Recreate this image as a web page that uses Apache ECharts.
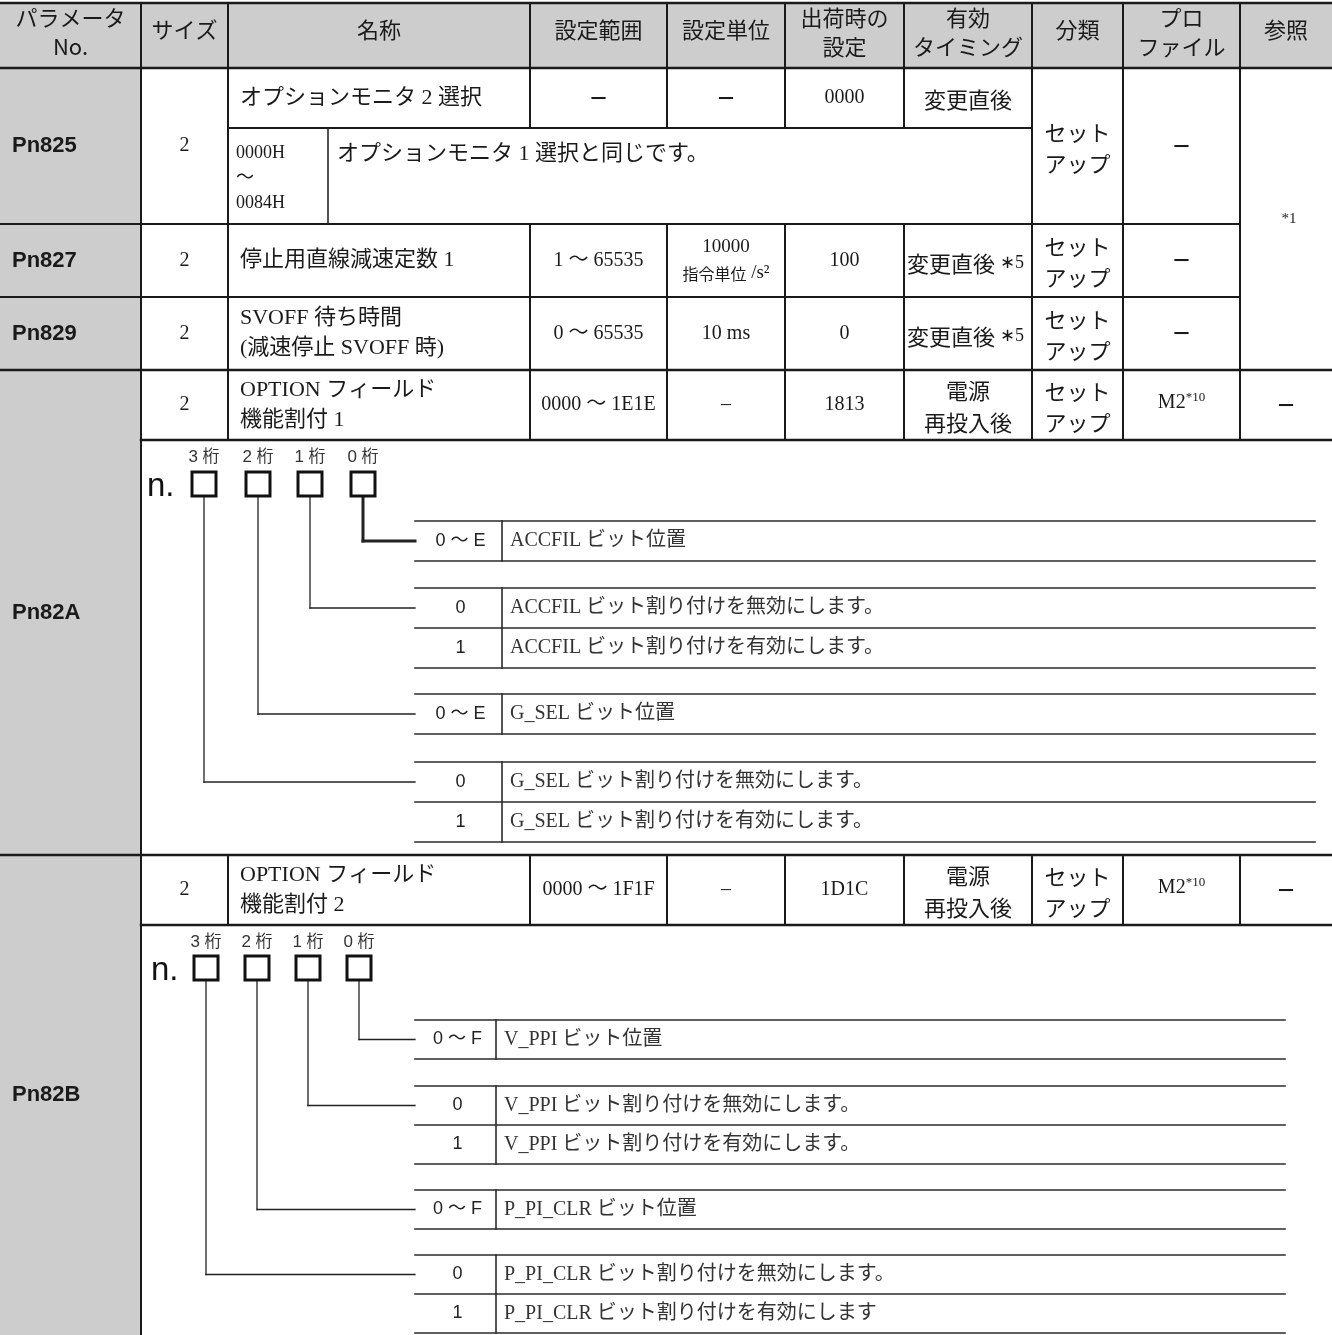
<!DOCTYPE html>
<html><head><meta charset="utf-8">
<script src="https://cdn.jsdelivr.net/npm/echarts@6/dist/echarts.min.js"></script>
<style>html,body{margin:0;padding:0;background:#fff}#c{width:1332px;height:1335px}</style>
</head><body><div id="c"></div>
<script>
// ---------------- content ----------------
const headers = ['パラメータ\nNo.', 'サイズ', '名称', '設定範囲', '設定単位', '出荷時の\n設定', '有効\nタイミング', '分類', 'プロ\nファイル', '参照'];
const paramNos = ['Pn825', 'Pn827', 'Pn829', 'Pn82A', 'Pn82B'];
const sizes = ['2', '2', '2', '2', '2'];
const names = ['オプションモニタ 2 選択', '停止用直線減速定数 1', 'SVOFF 待ち時間\n(減速停止 SVOFF 時)', 'OPTION フィールド\n機能割付 1', 'OPTION フィールド\n機能割付 2'];
const ranges = ['－', '1 ～ 65535', '0 ～ 65535', '0000 ～ 1E1E', '0000 ～ 1F1F'];
const units = ['－', '10000\n指令単位 /s²', '10 ms', '–', '–'];
const defaults = ['0000', '100', '0', '1813', '1D1C'];
const timings = ['変更直後', '変更直後|∗5', '変更直後|∗5', '電源\n再投入後', '電源\n再投入後'];
const classes = ['セット\nアップ', 'セット\nアップ', 'セット\nアップ', 'セット\nアップ', 'セット\nアップ'];
const profiles = ['－', '－', '－', 'M2|*10', 'M2|*10'];
const refs = ['*1', '－', '－'];
const pn825Range = '0000H\n～\n0084H';
const pn825Desc = 'オプションモニタ 1 選択と同じです。';
const digitLabels = ['3 桁', '2 桁', '1 桁', '0 桁'];
const digitPrefix = 'n.';
const pn82AEntries = [
  [['0 ～ E', 'ACCFIL ビット位置']],
  [['0', 'ACCFIL ビット割り付けを無効にします。'], ['1', 'ACCFIL ビット割り付けを有効にします。']],
  [['0 ～ E', 'G_SEL ビット位置']],
  [['0', 'G_SEL ビット割り付けを無効にします。'], ['1', 'G_SEL ビット割り付けを有効にします。']]
];
const pn82BEntries = [
  [['0 ～ F', 'V_PPI ビット位置']],
  [['0', 'V_PPI ビット割り付けを無効にします。'], ['1', 'V_PPI ビット割り付けを有効にします。']],
  [['0 ～ F', 'P_PI_CLR ビット位置']],
  [['0', 'P_PI_CLR ビット割り付けを無効にします。'], ['1', 'P_PI_CLR ビット割り付けを有効にします']]
];

// ---------------- layout ----------------
const W = 1332, H = 1335;
const colX = [0, 141, 228, 530, 667, 785, 904, 1032, 1123, 1240, 1332];
const Y = { top: 3, head: 68, sub825: 128, r827: 224, r829: 297, r82A: 370, d82A: 440, r82B: 855, d82B: 925, end: H };
const rowBands = [[Y.head, Y.r827], [Y.r827, Y.r829], [Y.r829, Y.r82A], [Y.r82A, Y.d82A], [Y.r82B, Y.d82B]];
const GREY = '#cdcdcd', INK = '#1a1a1a';
const F_JP = '"Noto Sans CJK JP", sans-serif';
const F_MIX = '"Liberation Serif", "Noto Sans CJK JP", serif';
const F_SANS = '"Liberation Sans", "Noto Sans CJK JP", sans-serif';

const fills = [], lines = [], texts = [], boxes = [];
const cx = i => (colX[i] + colX[i + 1]) / 2;
function L(x0, y0, x1, y1, w, c) { lines.push({ p: [x0, y0, x1, y1], w: w || 2, c: c || INK }); }
function T(x, y, text, o) {
  const t = Object.assign({ x, y, text, size: 20, family: F_MIX, align: 'center', fill: INK, lh: 28 }, o || {});
  if (text === '－') { t.family = F_JP; t.weight = 'bold'; t.size = 20; }
  texts.push(t);
}

// fills
fills.push({ p: [0, Y.top, W, Y.head], c: GREY });
fills.push({ p: [0, Y.head, colX[1], H], c: GREY });

// horizontal rules
L(0, Y.top, W, Y.top, 2.5);
L(0, Y.head, W, Y.head, 2.5);
L(colX[2], Y.sub825, colX[7], Y.sub825, 2);
L(0, Y.r827, colX[9], Y.r827, 2);
L(0, Y.r829, colX[9], Y.r829, 2);
L(0, Y.r82A, W, Y.r82A, 2.5);
L(colX[1], Y.d82A, W, Y.d82A, 2.5);
L(0, Y.r82B, W, Y.r82B, 2.5);
L(colX[1], Y.d82B, W, Y.d82B, 2.5);
// vertical rules
L(colX[1], Y.top, colX[1], H, 2);
for (let i = 2; i <= 9; i++) {
  if (i >= 3 && i <= 6) {
    L(colX[i], Y.top, colX[i], Y.sub825);
    L(colX[i], Y.r827, colX[i], Y.d82A);
  } else {
    L(colX[i], Y.top, colX[i], Y.d82A);
  }
  L(colX[i], Y.r82B, colX[i], Y.d82B);
}
L(328, Y.sub825, 328, Y.r827, 1.5);

// header texts
headers.forEach((h, i) => T(cx(i), h.indexOf('\n') >= 0 ? 32 : 30, h, { family: F_JP, size: 22, lh: 29 }));

// data rows
const TIM_RICH = { a: { fontFamily: F_JP, fontSize: 22 }, b: { fontFamily: F_MIX, fontSize: 18 } };
const PROF_RICH = { m: { fontFamily: F_MIX, fontSize: 20, lineHeight: 24 }, s: { fontFamily: F_MIX, fontSize: 13, lineHeight: 24, verticalAlign: 'top' } };
const UNIT_RICH = { n: { fontFamily: F_MIX, fontSize: 19, lineHeight: 26 }, j: { fontFamily: F_JP, fontSize: 16, lineHeight: 26 } };
rowBands.forEach((b, r) => {
  const full = r === 0 ? [Y.head, Y.r827] : b;
  const mid = r === 0 ? (Y.head + Y.sub825) / 2 : (b[0] + b[1]) / 2;
  const fullMid = (full[0] + full[1]) / 2;
  const lblMid = r === 3 ? (Y.r82A + Y.r82B) / 2 : r === 4 ? (Y.r82B + H) / 2 : fullMid;
  T(12, lblMid, paramNos[r], { family: '"Liberation Sans", sans-serif', weight: 'bold', size: 22, align: 'left' });
  T(cx(1), fullMid, sizes[r], { size: 20 });
  T(240, mid, names[r], { size: 22, align: 'left', lh: 30 });
  T(cx(3), mid, ranges[r], { size: 20 });
  const un = units[r].split('\n');
  if (un.length > 1) {
    const sp = un[1].indexOf(' ');
    T(cx(4), mid, '{n|' + un[0] + '}\n{j|' + un[1].slice(0, sp) + '}{n|' + un[1].slice(sp) + '}', { rich: UNIT_RICH, lh: 26 });
  } else T(cx(4), mid, units[r], { size: 20 });
  T(cx(5), mid, defaults[r], { size: 20 });
  const tm = timings[r].split('|');
  if (tm.length > 1) T(907, mid + 3, '{a|' + tm[0] + '} {b|' + tm[1] + '}', { align: 'left', rich: TIM_RICH });
  else T(cx(6), mid + 2, timings[r], { family: F_JP, size: 22, lh: 32 });
  T(cx(7), fullMid + 2, classes[r], { family: F_JP, size: 22, lh: 31 });
  const pf = profiles[r].split('|');
  if (pf.length > 1) T(cx(8), fullMid - 2, '{m|' + pf[0] + '}{s|' + pf[1] + '}', { rich: PROF_RICH });
  else T(cx(8), fullMid, profiles[r]);
});
T(1289, (Y.head + Y.r82A) / 2, refs[0], { size: 15 });
T(cx(9), (Y.r82A + Y.d82A) / 2, refs[1]);
T(cx(9), (Y.r82B + Y.d82B) / 2, refs[2]);
T(236, (Y.sub825 + Y.r827) / 2 + 2, pn825Range, { size: 18, align: 'left', lh: 25 });
T(337, Y.sub825 + 26, pn825Desc, { size: 22, align: 'left' });

// digit diagrams
function diagram(cfg, entries) {
  T(cfg.nX, cfg.boxY + 3, digitPrefix, { family: '"Liberation Sans", sans-serif', size: 33, align: 'left', fill: '#111' });
  digitLabels.forEach((lab, i) => {
    const x = cfg.digitX[i];
    T(x, cfg.labelY, lab, { family: F_SANS, size: 17, fill: '#333' });
    boxes.push({ p: [x - 12, cfg.boxY - 12, x + 12, cfg.boxY + 12] });
    const bi = 3 - i;
    const yc = cfg.blockTops[bi] + cfg.rowH / 2;
    const w = bi === cfg.boldDigit ? 3 : 1.3;
    L(x, cfg.boxY + 13, x, yc, w, '#222');
    L(x, yc, cfg.lineX0, yc, w, '#222');
  });
  entries.forEach((blk, bi) => {
    const t0 = cfg.blockTops[bi];
    const t1 = t0 + cfg.rowH * blk.length;
    for (let k = 0; k <= blk.length; k++) L(cfg.lineX0, t0 + k * cfg.rowH, cfg.lineX1, t0 + k * cfg.rowH, 1.6, '#2a2a2a');
    L(cfg.sepX, t0, cfg.sepX, t1, 1.6, '#2a2a2a');
    blk.forEach((row, k) => {
      const y = t0 + cfg.rowH * (k + 0.5);
      T((cfg.lineX0 + cfg.sepX) / 2 + 2, y, row[0], { family: F_SANS, size: 18, fill: '#222' });
      T(cfg.sepX + 8, y, row[1], { size: 20, align: 'left', fill: '#333' });
    });
  });
}
diagram({ nX: 147, labelY: 457, boxY: 484, digitX: [204, 258, 310, 363], lineX0: 415, sepX: 502, lineX1: 1315, blockTops: [521, 588, 694, 762], rowH: 40, boldDigit: 0 }, pn82AEntries);
diagram({ nX: 151, labelY: 942, boxY: 968, digitX: [206, 257, 308, 359], lineX0: 415, sepX: 496, lineX1: 1285, blockTops: [1020, 1086, 1190, 1255], rowH: 39, boldDigit: -1 }, pn82BEntries);

// ---------------- chart ----------------
const chart = echarts.init(document.getElementById('c'));
const xy4 = a => a.map(o => o.p);
chart.setOption({
  animation: false,
  grid: { left: 0, right: 0, top: 0, bottom: 0 },
  xAxis: { type: 'value', min: 0, max: W, show: false },
  yAxis: { type: 'value', min: 0, max: H, inverse: true, show: false },
  series: [
    {
      type: 'custom', name: 'fills', silent: true, z: 1, data: xy4(fills), encode: { x: [0, 2], y: [1, 3] },
      renderItem: (p, api) => {
        const a = api.coord([api.value(0), api.value(1)]), b = api.coord([api.value(2), api.value(3)]);
        return { type: 'rect', shape: { x: a[0], y: a[1], width: b[0] - a[0], height: b[1] - a[1] }, style: { fill: fills[p.dataIndex].c } };
      }
    },
    {
      type: 'custom', name: 'rules', silent: true, z: 2, data: xy4(lines), encode: { x: [0, 2], y: [1, 3] },
      renderItem: (p, api) => {
        const a = api.coord([api.value(0), api.value(1)]), b = api.coord([api.value(2), api.value(3)]);
        const l = lines[p.dataIndex];
        return { type: 'line', shape: { x1: a[0], y1: a[1], x2: b[0], y2: b[1] }, style: { stroke: l.c, lineWidth: l.w, lineCap: 'square' } };
      }
    },
    {
      type: 'custom', name: 'boxes', silent: true, z: 3, data: xy4(boxes), encode: { x: [0, 2], y: [1, 3] },
      renderItem: (p, api) => {
        const a = api.coord([api.value(0), api.value(1)]), b = api.coord([api.value(2), api.value(3)]);
        return { type: 'rect', shape: { x: a[0], y: a[1], width: b[0] - a[0], height: b[1] - a[1] }, style: { fill: '#fff', stroke: '#111', lineWidth: 3 } };
      }
    },
    {
      type: 'custom', name: 'texts', silent: true, z: 4, data: texts.map(t => [t.x, t.y]), encode: { x: 0, y: 1 },
      renderItem: (p, api) => {
        const t = texts[p.dataIndex];
        const c = api.coord([api.value(0), api.value(1)]);
        return {
          type: 'text', x: c[0], y: c[1],
          style: {
            text: t.text, fill: t.fill, fontSize: t.size, fontFamily: t.family, fontWeight: t.weight || 'normal',
            align: t.align, verticalAlign: 'middle', textAlign: t.align, textVerticalAlign: 'middle',
            lineHeight: t.lh, rich: t.rich
          }
        };
      }
    }
  ]
});
</script>
</body></html>
